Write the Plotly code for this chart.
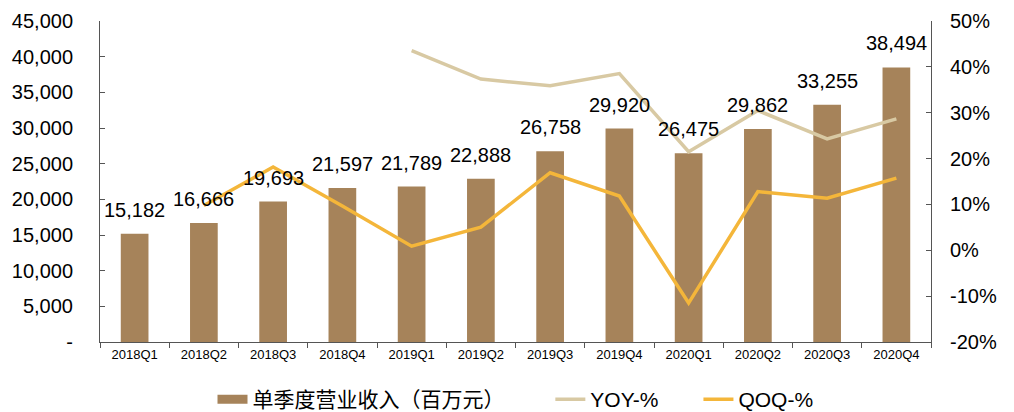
import plotly.graph_objects as go

quarters = ["2018Q1", "2018Q2", "2018Q3", "2018Q4", "2019Q1", "2019Q2",
            "2019Q3", "2019Q4", "2020Q1", "2020Q2", "2020Q3", "2020Q4"]
revenue = [15182, 16666, 19693, 21597, 21789, 22888, 26758, 29920, 26475, 29862, 33255, 38494]
yoy = [None, None, None, None, 43.52, 37.33, 35.88, 38.54, 21.51, 30.47, 24.28, 28.66]
qoq = [None, 9.77, 18.16, 9.67, 0.89, 5.04, 16.91, 11.82, -11.51, 12.79, 11.36, 15.75]

left_ticks = [0, 5000, 10000, 15000, 20000, 25000, 30000, 35000, 40000, 45000]
left_labels = ["-"] + [f"{v:,}" for v in left_ticks[1:]]
right_ticks = [-20, -10, 0, 10, 20, 30, 40, 50]
right_labels = [f"{v}%" for v in right_ticks]

BAR = "#A6835A"
YOYC = "#D8C9A3"
QOQC = "#F4B63A"
FONT = "Liberation Sans, Arial, sans-serif"
PAD = "\u00a0"

fig = go.Figure()
fig.add_trace(go.Bar(x=quarters, y=revenue, name="单季度营业收入（百万元）",
                     marker=dict(color=BAR, line=dict(width=0)), width=0.4,
                     yaxis="y", showlegend=False))
# legend swatch for the bars (wide rectangle like the reference)
fig.add_trace(go.Scatter(x=[None], y=[None], name="单季度营业收入（百万元）" + PAD * 7,
                         mode="lines", line=dict(color=BAR, width=9), yaxis="y",
                         hoverinfo="skip"))
fig.add_trace(go.Scatter(x=quarters, y=yoy, name="YOY-%" + PAD * 6, mode="lines",
                         line=dict(color=YOYC, width=3.5), yaxis="y2"))
fig.add_trace(go.Scatter(x=quarters, y=qoq, name="QOQ-%", mode="lines",
                         line=dict(color=QOQC, width=3.5), yaxis="y2"))

for q, v in zip(quarters, revenue):
    fig.add_annotation(x=q, y=v, xref="x", yref="y", text=f"{v:,}",
                       showarrow=False, yanchor="bottom", yshift=11,
                       font=dict(size=20, color="#000", family=FONT))

fig.update_layout(
    width=1014, height=412,
    margin=dict(l=100, r=83, t=21, b=70, autoexpand=False),
    paper_bgcolor="white", plot_bgcolor="white",
    font=dict(family=FONT, color="#000"),
    bargap=0.6,
    showlegend=True,
    legend=dict(orientation="h", x=0.5, xanchor="center", yref="container",
                y=0.03, yanchor="middle",
                font=dict(size=21, family="Liberation Sans, Noto Sans CJK SC, sans-serif"),
                traceorder="normal", tracegroupgap=0),
    xaxis=dict(type="category", showline=True, linecolor="#555", linewidth=1,
               ticks="outside", tickson="boundaries", ticklen=5, tickcolor="#555",
               tickfont=dict(size=13), showgrid=False, mirror=False,
               range=[-0.5, 11.5]),
    yaxis=dict(range=[0, 45000], tickvals=left_ticks, ticktext=left_labels,
               showline=True, linecolor="#555", linewidth=1, ticks="inside",
               ticklen=5, tickcolor="#555", showgrid=False, zeroline=False,
               tickfont=dict(size=20), ticklabelstandoff=22),
    yaxis2=dict(range=[-20, 50], tickvals=right_ticks, ticktext=right_labels,
                overlaying="y", side="right", showline=True, linecolor="#555",
                linewidth=1, ticks="inside", ticklen=5, tickcolor="#555",
                showgrid=False, zeroline=False, tickfont=dict(size=20),
                ticklabelstandoff=14),
)

fig.write_html("out.html")
